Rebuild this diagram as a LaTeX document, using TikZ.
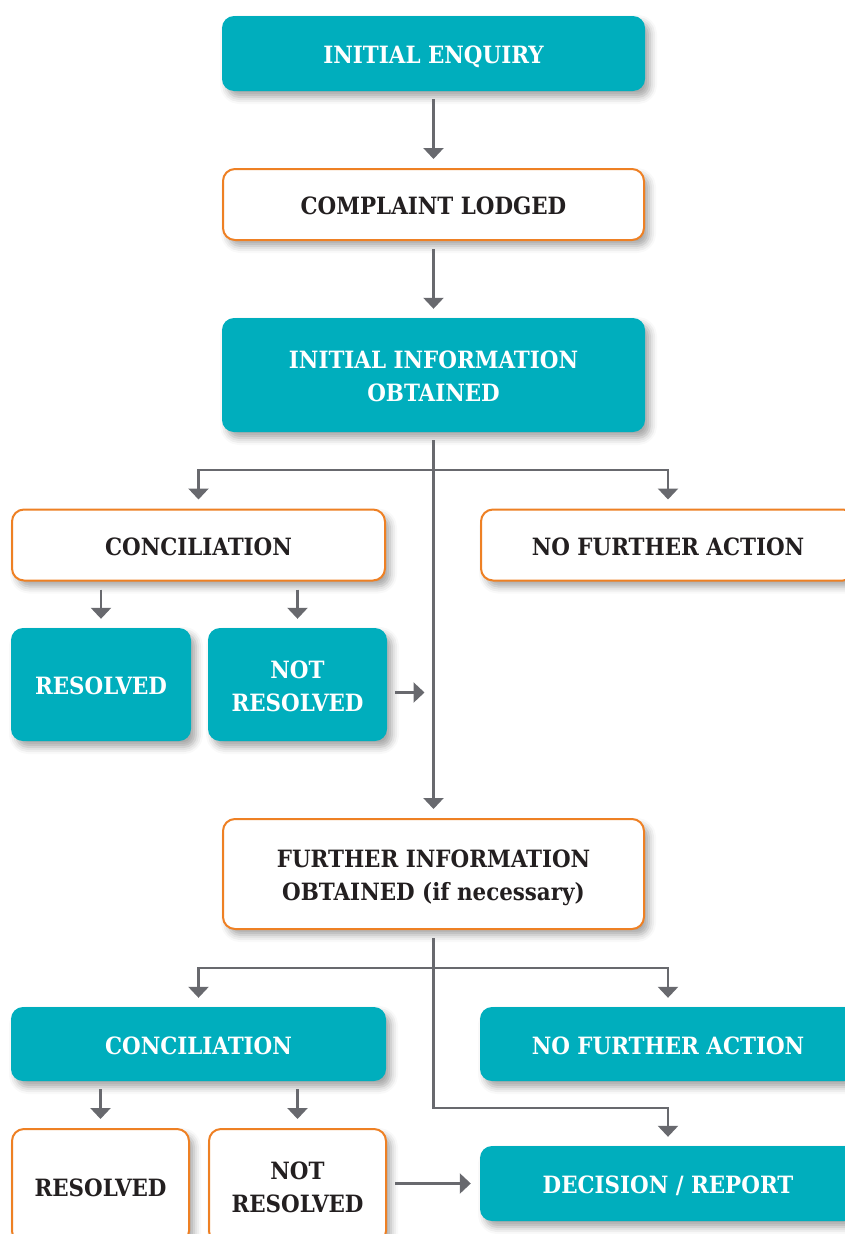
\documentclass[tikz,border=0pt]{standalone}
\usepackage{fontspec}
\setmainfont{DejaVu Serif Condensed}
\usepackage{tikz}
\usetikzlibrary{arrows.meta,shadows.blur}
\definecolor{hopteal}{RGB}{0,174,189}
\definecolor{hoporange}{RGB}{238,128,36}
\definecolor{hopgray}{RGB}{104,105,110}
\definecolor{hoptext}{RGB}{35,31,32}

\begin{document}
\begin{tikzpicture}[x=1pt,y=-1pt,
	box/.style={rounded corners=12pt, align=center, inner sep=0pt, text depth=0pt,
		font=\fontsize{23.8}{33}\selectfont\bfseries,
		blur shadow={shadow xshift=5pt, shadow yshift=-6pt, shadow blur radius=7pt, shadow opacity=35}},
	tealbox/.style={box, fill=hopteal, text=white},
	orangebox/.style={box, draw=hoporange, line width=2pt, fill=white, text=hoptext},
	flow/.style={draw=hopgray, line width=2.5pt, shorten <=8pt, shorten >=9pt,
		-{Triangle[width=20pt,length=11pt]}}]
	\useasboundingbox (0,0) rectangle (845,1234);
	\clip (0,0) rectangle (845,1234);
	% top column
	\node[tealbox, minimum width=423pt, minimum height=75pt] (enquiry) at (433.5,53.5) {\raisebox{-3pt}{INITIAL ENQUIRY}};
	\node[orangebox, minimum width=421pt, minimum height=71pt] (lodged) at (433.5,204.5) {\raisebox{-3pt}{COMPLAINT LODGED}};
	\node[tealbox, minimum width=423pt, minimum height=114pt] (initinfo) at (433.5,375) {\raisebox{-3pt}{INITIAL INFORMATION}\\\raisebox{-3pt}{OBTAINED}};
	% first split
	\node[orangebox, minimum width=373pt, minimum height=71pt] (concA) at (198.5,545) {\raisebox{-3pt}{CONCILIATION}};
	\node[orangebox, minimum width=374pt, minimum height=71pt] (nfaA) at (668,545) {\raisebox{-3pt}{NO FURTHER ACTION}};
	\node[tealbox, minimum width=180pt, minimum height=113pt] (resA) at (101,684.5) {\raisebox{-3pt}{RESOLVED}};
	\node[tealbox, minimum width=179pt, minimum height=113pt] (notresA) at (297.5,684.5) {\raisebox{-3pt}{NOT}\\\raisebox{-3pt}{RESOLVED}};
	\node[orangebox, minimum width=421pt, minimum height=110pt] (furtherinfo) at (433.5,874) {\raisebox{-3pt}{FURTHER INFORMATION}\\\raisebox{-3pt}{OBTAINED (if necessary)}};
	% second split
	\node[tealbox, minimum width=375pt, minimum height=74pt] (concB) at (198.5,1044) {\raisebox{-3pt}{CONCILIATION}};
	\node[tealbox, minimum width=376pt, minimum height=74pt] (nfaB) at (668,1044) {\raisebox{-3pt}{NO FURTHER ACTION}};
	\node[orangebox, minimum width=177pt, minimum height=114pt] (resB) at (100.5,1186) {\raisebox{-3pt}{RESOLVED}};
	\node[orangebox, minimum width=177pt, minimum height=114pt] (notresB) at (297.5,1186) {\raisebox{-3pt}{NOT}\\\raisebox{-3pt}{RESOLVED}};
	\node[tealbox, minimum width=376pt, minimum height=75pt] (decision) at (668,1183.5) {\raisebox{-3pt}{DECISION / REPORT}};

	\coordinate (splitA) at (433.5,470);
	\coordinate (splitB) at (433.5,968);
	\coordinate (turnB) at (433.5,1108);

	\draw[flow] (enquiry) -- (lodged);
	\draw[flow] (lodged) -- (initinfo);
	\draw[flow] (initinfo) -- (furtherinfo);
	\draw[flow, shorten <=0pt] (splitA) -| (concA);
	\draw[flow, shorten <=0pt] (splitA) -| (nfaA);
	\draw[flow] (resA.north |- concA.south) -- (resA.north);
	\draw[flow] (notresA.north |- concA.south) -- (notresA.north);
	\draw[flow] ([yshift=-8pt]notresA.east) -- ([yshift=-8pt]notresA.east -| initinfo.south);
	\draw[flow, shorten <=0pt] (splitB) -| (concB);
	\draw[flow, shorten <=0pt] (splitB) -| (nfaB);
	\draw[flow] (furtherinfo) -- (turnB) -| (decision);
	\draw[flow] (resB.north |- concB.south) -- (resB.north);
	\draw[flow] (notresB.north |- concB.south) -- (notresB.north);
	\draw[flow] (notresB.east |- decision.west) -- (decision.west);
\end{tikzpicture}
\end{document}
